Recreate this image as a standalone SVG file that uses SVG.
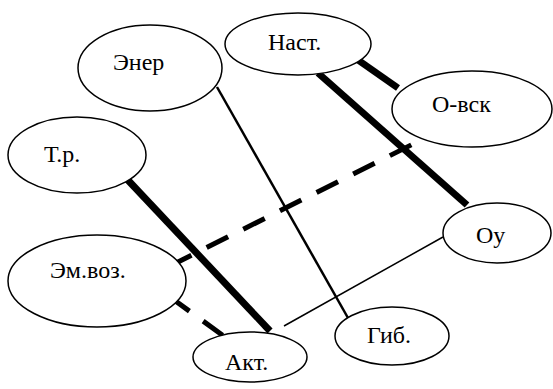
<svg xmlns="http://www.w3.org/2000/svg" width="553" height="389" viewBox="0 0 553 389">
<style>
.e{fill:#fff;stroke:#000;stroke-width:1.5}
.t{font-family:'Liberation Serif','Times New Roman',serif;font-size:24px;fill:#000}
</style>
<rect width="553" height="389" fill="#fff"/>
<g id="connectors" stroke="#000" fill="none">
<line stroke-width="7" x1="358" y1="60" x2="398" y2="88"/>
<line stroke-width="7" x1="318" y1="73" x2="467" y2="205"/>
<line stroke-width="5" stroke-dasharray="24 17" x1="170" y1="266" x2="417" y2="142"/>
<line stroke-width="5" stroke-dasharray="24 17" x1="170" y1="297" x2="225" y2="337"/>
<line stroke-width="7" x1="125" y1="177" x2="270" y2="331"/>
<line stroke-width="2.5" x1="217" y1="87" x2="352" y2="325"/>
<line stroke-width="1.5" x1="443" y1="237" x2="284" y2="326"/>
</g>
<g id="n-ener"><ellipse class="e" cx="150" cy="68" rx="72" ry="43"/><text class="t" x="113" y="70">Энер</text></g>
<g id="n-tr"><ellipse class="e" cx="77" cy="155" rx="69" ry="38"/><text class="t" x="44" y="162">Т.р.</text></g>
<g id="n-nast"><ellipse class="e" cx="298" cy="44" rx="73" ry="31"/><text class="t" x="268" y="50">Наст.</text></g>
<g id="n-ovsk"><ellipse class="e" cx="472" cy="109" rx="80" ry="38"/><text class="t" x="432" y="112">О-вск</text></g>
<g id="n-oy"><ellipse class="e" cx="497" cy="233" rx="54" ry="30"/><text class="t" x="476" y="243">Оу</text></g>
<g id="n-emvoz"><ellipse class="e" cx="97" cy="281" rx="89" ry="46"/><text class="t" x="50" y="278">Эм.воз.</text></g>
<g id="n-akt"><ellipse class="e" cx="250" cy="357" rx="57" ry="25"/><text class="t" x="225" y="370">Акт.</text></g>
<g id="n-gib"><ellipse class="e" cx="392" cy="336" rx="57" ry="29"/><text class="t" x="367" y="343">Гиб.</text></g>
</svg>
